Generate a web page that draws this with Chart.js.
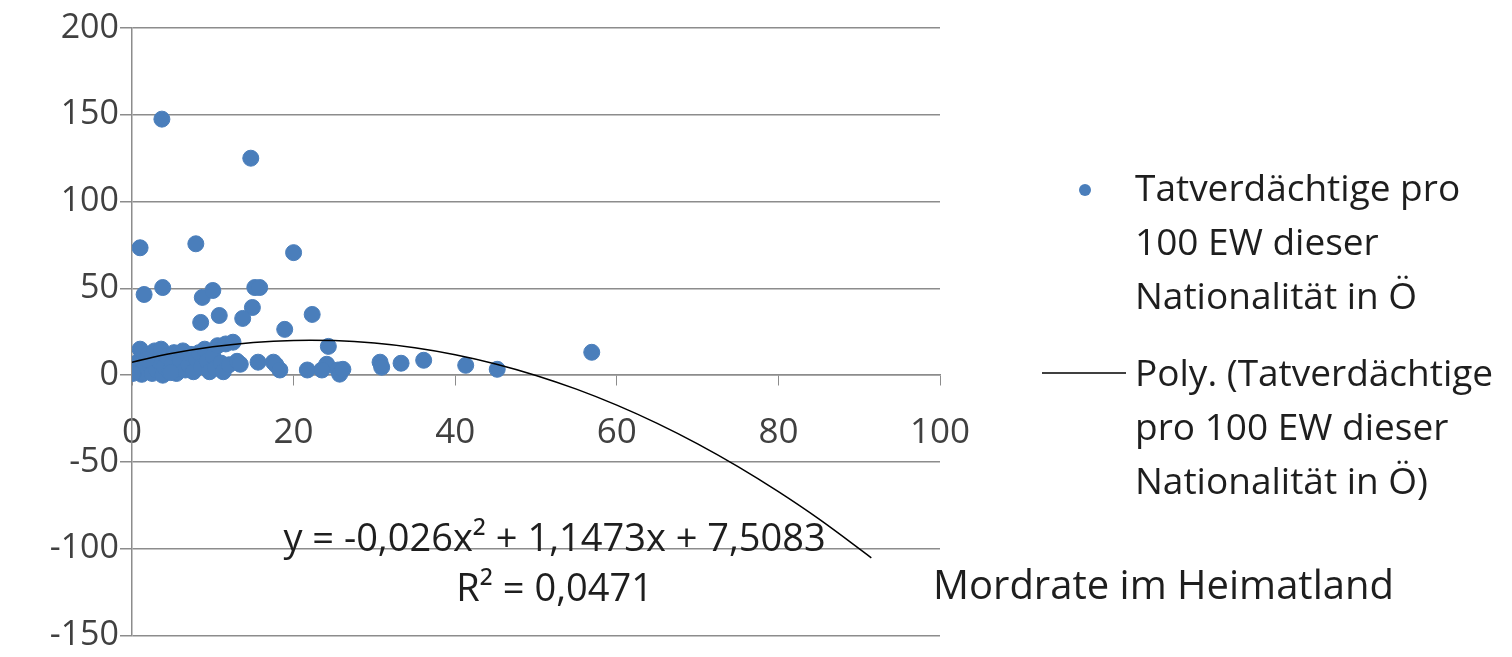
<!DOCTYPE html>
<html>
<head>
<meta charset="utf-8">
<script src="https://cdn.jsdelivr.net/npm/chart.js@4"></script>
<style>
  html, body { margin: 0; padding: 0; background: #fff; }
  #wrap { width: 1512px; height: 657px; position: relative; }
</style>
</head>
<body>
<div id="wrap"><canvas id="chart"></canvas></div>
<script>
// Mordrate im Heimatland (x) vs. Tatverdächtige pro 100 EW (y)
const mordrate = [
    0.2, 0.5, 0.8, 1.0, 1.2, 1.5, 2.0, 2.2, 2.5, 2.8, 3.0, 3.3, 3.6, 3.8, 4.0,
    4.3, 4.6, 5.0, 5.2, 5.5, 5.8, 6.0, 6.3, 6.6, 7.0, 7.3, 7.6, 8.0, 8.3, 8.6,
    9.0, 9.3, 9.6, 10.0, 10.3, 10.6, 11.0, 11.3, 11.6, 12.0, 12.5, 13.0, 0.1, 1.8, 4.8,
    13.4, 15.6, 17.5, 17.8, 18.3, 21.7, 24.1, 23.5, 24.3, 25.5, 25.7, 26.1,
    30.7, 30.9, 33.3, 36.1, 41.3, 45.2, 56.9,
    3.7, 14.7, 1.0, 7.9, 20.0, 1.5, 3.8, 8.7, 10.0, 15.2, 15.8, 10.8, 14.9,
    13.7, 8.5, 18.9, 22.3
];
const tatverdaechtige = [
    5, 2, 8, 15, 0.5, 4, 12, 6, 1, 14, 3, 8, 15, 0, 5,
    11, 2, 7, 13, 1, 4, 9, 14, 3, 6, 12, 2, 9, 13, 5,
    15, 8, 2, 11, 4, 17, 7, 2, 18, 6, 19, 8, 1, 9, 1.5,
    6.3, 7.5, 7.5, 6, 3, 3, 6.3, 3, 16.6, 3, 0.6, 3.4,
    7.5, 4.6, 6.9, 8.6, 5.7, 3.4, 13.2,
    147.5, 125, 73.4, 75.7, 70.6, 46.5, 50.5, 44.8, 48.8, 50.5, 50.5, 34.4, 39,
    32.7, 30.4, 26.4, 35
];

// polynomial trendline as printed on the chart: y = c0 + c1*x + c2*x^2
const trendCoef = [7.5083, 1.1473, -0.026];
const trendX = [0, 5, 10, 15, 20, 25, 30, 35, 40, 45, 50, 55, 60, 65, 70, 75, 80, 85, 91.5];

const yTicks = [-150, -100, -50, 0, 50, 100, 150, 200];
const xTicks = [0, 20, 40, 60, 80, 100];

const seriesLabel = ['Tatverdächtige pro', '100 EW dieser', 'Nationalität in Ö'];
const trendLabel = ['Poly. (Tatverdächtige', 'pro 100 EW dieser', 'Nationalität in Ö)'];
const xTitle = 'Mordrate im Heimatland';
const equation = ['y = -0,026x² + 1,1473x + 7,5083', 'R² = 0,0471'];

const FONT = '"Open Sans", sans-serif';
const TEXT = '#404040';
const GRID = '#8c8c8c';
const BLUE = '#4a7ebb';

const points = mordrate.map((x, i) => ({ x: x, y: tatverdaechtige[i] }));
const trend = trendX.map(x => ({ x: x, y: trendCoef[0] + trendCoef[1] * x + trendCoef[2] * x * x }));

const extras = {
    id: 'extras',
    afterDraw(chart) {
        const ctx = chart.ctx;
        const xs = chart.scales.x;
        ctx.save();
        ctx.fillStyle = '#1e1e1e';
        ctx.textBaseline = 'middle';
        ctx.textAlign = 'center';
        const cx = xs.getPixelForValue(52.3);
        ctx.font = '38px ' + FONT;
        ctx.fillText(equation[0], cx, 540);
        ctx.fillText(equation[1], cx, 590);

        ctx.textAlign = 'left';
        ctx.font = '40px ' + FONT;
        ctx.fillText(xTitle, 933, 588);

        // legend
        ctx.font = '37px ' + FONT;
        ctx.fillStyle = BLUE;
        ctx.beginPath();
        ctx.arc(1085, 190, 6, 0, Math.PI * 2);
        ctx.fill();
        ctx.fillStyle = '#1e1e1e';
        seriesLabel.forEach((t, i) => ctx.fillText(t, 1135, 190 + i * 54));

        ctx.strokeStyle = '#000';
        ctx.lineWidth = 1.5;
        ctx.beginPath();
        ctx.moveTo(1042, 373);
        ctx.lineTo(1126, 373);
        ctx.stroke();
        trendLabel.forEach((t, i) => ctx.fillText(t, 1135, 375 + i * 54));
        ctx.restore();
    }
};

new Chart(document.getElementById('chart'), {
    type: 'scatter',
    data: {
        datasets: [{
            label: 'Poly. (Tatverdächtige pro 100 EW dieser Nationalität in Ö)',
            data: trend,
            showLine: true,
            tension: 0.4,
            borderColor: '#000',
            borderWidth: 1.5,
            pointRadius: 0,
            order: 0,
        },
        {
            label: 'Tatverdächtige pro 100 EW dieser Nationalität in Ö',
            data: points,
            backgroundColor: BLUE,
            borderColor: BLUE,
            pointRadius: 8,
            order: 1,
        }],
    },
    options: {
        responsive: true,
        maintainAspectRatio: false,
        animation: false,
        layout: {
            padding: { top: 28, right: 572, bottom: 19, left: 0 }
        },
        plugins: {
            legend: { display: false },
            tooltip: { enabled: false },
        },
        scales: {
            x: {
                type: 'linear',
                position: { y: 0 },
                min: 0,
                max: 100,
                afterBuildTicks: s => { s.ticks = xTicks.map(v => ({ value: v })); },
                ticks: {
                    color: TEXT,
                    font: { family: FONT, size: 35 },
                    padding: 27,
                    maxRotation: 0,
                },
                grid: {
                    drawOnChartArea: false,
                    color: GRID,
                    tickLength: 10,
                },
                border: { color: GRID, width: 1.5 },
            },
            y: {
                min: -150,
                max: 200,
                afterBuildTicks: s => { s.ticks = yTicks.map(v => ({ value: v })); },
                afterFit: s => { s.width = 132; },
                ticks: {
                    color: TEXT,
                    font: { family: FONT, size: 34 },
                    padding: 1,
                },
                grid: {
                    color: GRID,
                    lineWidth: 1.5,
                    tickLength: 12,
                },
                border: { color: GRID, width: 1.5 },
            },
        },
    },
    plugins: [extras],
});
</script>
</body>
</html>
